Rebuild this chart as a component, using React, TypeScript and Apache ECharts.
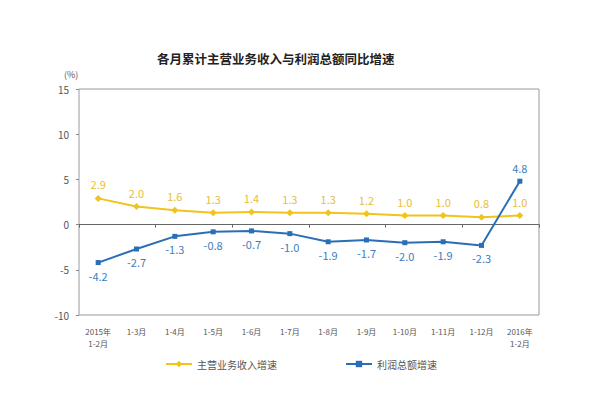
import React, { useEffect, useRef } from "react";
import * as echarts from "echarts";

const categories = [
  "2015年\n1-2月", "1-3月", "1-4月", "1-5月", "1-6月", "1-7月",
  "1-8月", "1-9月", "1-10月", "1-11月", "1-12月", "2016年\n1-2月",
];
const revenueGrowth = [2.9, 2.0, 1.6, 1.3, 1.4, 1.3, 1.3, 1.2, 1.0, 1.0, 0.8, 1.0];
const profitGrowth = [-4.2, -2.7, -1.3, -0.8, -0.7, -1.0, -1.9, -1.7, -2.0, -1.9, -2.3, 4.8];
const revenueName = "主营业务收入增速";
const profitName = "利润总额增速";
const titleText = "各月累计主营业务收入与利润总额同比增速";

const FONT = "'Noto Sans CJK SC', 'Noto Sans', sans-serif";
const YELLOW = "#F2C318";
const BLUE = "#2A6EB5";

export default function App() {
  const ref = useRef<HTMLDivElement>(null);
  useEffect(() => {
    if (!ref.current) return;
    const chart = echarts.init(ref.current, null, { renderer: "svg" });
    chart.setOption({
      animation: false,
      backgroundColor: "#ffffff",
      textStyle: { fontFamily: FONT },
      title: {
        text: titleText,
        left: 152,
        top: 47,
        textStyle: { fontSize: 12.5, fontWeight: "bold", color: "#222", fontFamily: FONT },
      },
      graphic: [
        {
          type: "text",
          left: 64,
          top: 70,
          style: { text: "(%)", fontSize: 9, fill: "#555", fontFamily: FONT },
        },
      ],
      legend: {
        bottom: 20,
        left: 160,
        itemGap: 68,
        itemWidth: 26,
        itemHeight: 8,
        textStyle: { fontSize: 10, color: "#555", fontFamily: FONT },
        data: [revenueName, profitName],
      },
      grid: {
        left: 79,
        right: 65,
        top: 89,
        bottom: 79,
        show: true,
        borderColor: "#9a9a9a",
        borderWidth: 1,
      },
      xAxis: [
        {
          type: "category",
          data: categories,
          boundaryGap: true,
          position: "bottom",
          axisLine: { show: false, onZero: false },
          axisTick: { show: false },
          axisLabel: {
            fontSize: 8,
            color: "#555",
            lineHeight: 12,
            margin: 10,
            interval: 0,
            fontFamily: FONT,
          },
        },
        {
          type: "category",
          data: categories,
          boundaryGap: true,
          axisLine: { show: true, onZero: true, lineStyle: { color: "#666", width: 1 } },
          axisTick: { show: true, inside: true, length: 3, lineStyle: { color: "#666" } },
          axisLabel: { show: false },
        },
      ],
      yAxis: {
        type: "value",
        min: -10,
        max: 15,
        interval: 5,
        axisLine: { show: false },
        axisTick: { show: true, length: 3, lineStyle: { color: "#888" } },
        splitLine: { show: false },
        axisLabel: { fontSize: 10, color: "#555", margin: 10, fontFamily: FONT },
      },
      series: [
        {
          name: revenueName,
          type: "line",
          data: revenueGrowth,
          xAxisIndex: 0,
          symbol: "diamond",
          symbolSize: 7,
          lineStyle: { color: YELLOW, width: 2 },
          itemStyle: { color: YELLOW },
          label: {
            show: true,
            position: "top",
            distance: 5,
            fontSize: 11,
            color: "#E6BE3A",
            formatter: (p: any) => Number(p.value).toFixed(1),
          },
        },
        {
          name: profitName,
          type: "line",
          data: profitGrowth.map((v, i) => ({
            value: v,
            label: { position: i === profitGrowth.length - 1 ? "top" : "bottom" },
          })),
          xAxisIndex: 0,
          symbol: "rect",
          symbolSize: 5,
          lineStyle: { color: BLUE, width: 2 },
          itemStyle: { color: BLUE },
          label: {
            show: true,
            position: "bottom",
            distance: 5,
            fontSize: 11,
            color: "#3C7DC0",
            formatter: (p: any) => Number(p.value).toFixed(1),
          },
        },
      ],
    });
    return () => chart.dispose();
  }, []);
  return (
    <div
      ref={ref}
      style={{ position: "absolute", left: 0, top: 0, width: 604, height: 394 }}
    />
  );
}
